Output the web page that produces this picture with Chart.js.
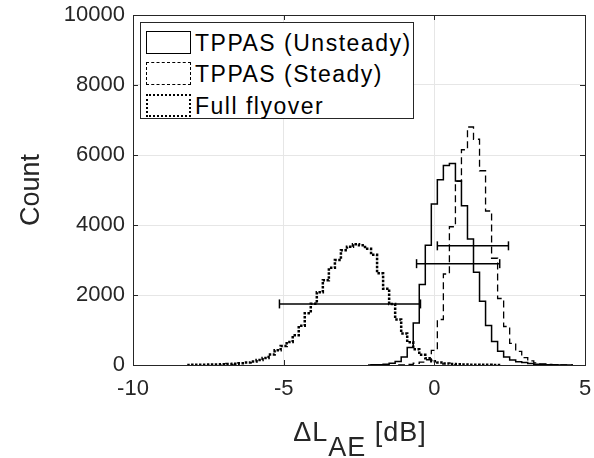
<!DOCTYPE html>
<html>
<head>
<meta charset="utf-8">
<script src="https://cdn.jsdelivr.net/npm/chart.js@4.4.1/dist/chart.umd.min.js"></script>
<style>
  body { margin: 0; background: #fff; }
  #wrap { position: relative; width: 594px; height: 458px; font-family: "Liberation Sans", Arial, sans-serif; color: #262626; }
  #chart { position: absolute; left: 0; top: 0; }
  #legend { position: absolute; left: 140px; top: 22px; width: 274px; height: 97px; border: 1px solid #262626; background: #fff; box-sizing: border-box; }
  .row { position: absolute; left: 5px; height: 23px; font-size: 23px; line-height: 23px; white-space: nowrap; color: #000; }
  .row .ic { position: absolute; left: 0; top: 0; width: 45px; height: 23px; box-sizing: border-box; }
  .row span { position: absolute; left: 49px; top: 1px; letter-spacing: 1.5px; }
  #xtitle { position: absolute; left: 240px; width: 240px; top: 419px; text-align: center; font-size: 27px; line-height: 27px; letter-spacing: 1px; white-space: nowrap; }
  #xtitle sub { font-size: 27px; vertical-align: -15px; line-height: 0; }
</style>
</head>
<body>
<div id="wrap">
  <canvas id="chart" width="594" height="458"></canvas>
  <div id="legend">
    <div class="row" style="top:8px"><div class="ic" style="border:1.5px solid #000"></div><span>TPPAS (Unsteady)</span></div>
    <div class="row" style="top:39px"><div class="ic" style="border:1px dashed #000"></div><span>TPPAS (Steady)</span></div>
    <div class="row" style="top:71px"><div class="ic" style="border:2.5px dotted #000"></div><span>Full flyover</span></div>
  </div>
  <div id="xtitle">&Delta;L<sub>AE</sub> [dB]</div>
</div>
<script>
// histogram bin centres (dB) and counts
const unsteadyX = [-2.2, -2.0, -1.8, -1.6, -1.4, -1.2, -1.0, -0.8, -0.6, -0.4, -0.2, 0.0, 0.2, 0.4, 0.6, 0.8, 1.0, 1.2, 1.4, 1.6, 1.8, 2.0, 2.2, 2.4, 2.6, 2.8, 3.0, 3.2, 3.4, 3.6, 3.8, 4.0, 4.2, 4.4, 4.6];
const unsteadyY = [0, 5, 10, 25, 50, 100, 230, 500, 1200, 2300, 3420, 4600, 5290, 5700, 5760, 5260, 4550, 3600, 2650, 1820, 1130, 670, 390, 230, 140, 95, 70, 45, 25, 15, 10, 6, 3, 2, 0];

const steadyX = [-1.2, -1.0, -0.8, -0.6, -0.4, -0.2, 0.0, 0.2, 0.4, 0.6, 0.8, 1.0, 1.2, 1.4, 1.6, 1.8, 2.0, 2.2, 2.4, 2.6, 2.8, 3.0, 3.2, 3.4, 3.6, 3.8, 4.0, 4.2, 4.4, 4.6];
const steadyY = [0, 5, 20, 50, 80, 150, 420, 1300, 2600, 3950, 5250, 6150, 6800, 6450, 5550, 4400, 3050, 1900, 1100, 620, 390, 210, 120, 60, 35, 15, 6, 3, 1, 0];

const flyoverX = [-8.2, -8.0, -7.8, -7.6, -7.4, -7.2, -7.0, -6.8, -6.6, -6.4, -6.2, -6.0, -5.8, -5.6, -5.4, -5.2, -5.0, -4.8, -4.6, -4.4, -4.2, -4.0, -3.8, -3.6, -3.4, -3.2, -3.0, -2.8, -2.6, -2.4, -2.2, -2.0, -1.8, -1.6, -1.4, -1.2, -1.0, -0.8, -0.6, -0.4, -0.2, 0.0, 0.2, 0.4, 0.6, 0.8, 1.0, 1.2, 1.4, 1.6, 1.8, 2.0, 2.2];
const flyoverY = [0, 5, 8, 10, 12, 15, 20, 28, 35, 50, 70, 100, 140, 200, 300, 420, 540, 660, 850, 1120, 1480, 1750, 2080, 2420, 2780, 3000, 3280, 3380, 3450, 3420, 3320, 3150, 2620, 2180, 1740, 1300, 900, 650, 450, 290, 190, 110, 70, 45, 30, 22, 15, 10, 8, 6, 5, 3, 0];

// horizontal error bars: [left, right] at height y
const errFlyover = { lo: -5.14, hi: -0.46, y: 1745 };
const errUnsteady = { lo: -0.59, hi: 2.17, y: 2895 };
const errSteady = { lo: 0.10, hi: 2.46, y: 3405 };

const xTicks = [-10, -5, 0, 5];
const yTicks = [0, 2000, 4000, 6000, 8000, 10000];

const pts = (xs, ys) => xs.map((x, i) => ({ x: x, y: ys[i] }));

function histSet(xs, ys, width, dash) {
  return {
    data: pts(xs, ys),
    stepped: 'middle',
    borderColor: '#000',
    borderWidth: width,
    borderDash: dash,
    borderCapStyle: 'butt',
    pointRadius: 0,
    fill: false
  };
}

function errSet(e) {
  return {
    data: [{ x: e.lo, y: e.y }, { x: e.hi, y: e.y }],
    borderColor: '#000',
    borderWidth: 1.5,
    pointStyle: 'line',
    pointRotation: 90,
    pointRadius: 4.5,
    pointBorderWidth: 1.5,
    pointBorderColor: '#000',
    fill: false
  };
}

const boxPlugin = {
  id: 'box',
  afterDraw(chart) {
    const { ctx, chartArea: a, scales } = chart;
    ctx.save();
    ctx.strokeStyle = '#262626';
    ctx.lineWidth = 1;
    ctx.beginPath();
    xTicks.forEach(v => {
      const px = Math.round(scales.x.getPixelForValue(v)) + 0.5;
      ctx.moveTo(px, a.bottom); ctx.lineTo(px, a.bottom - 5);
      ctx.moveTo(px, a.top); ctx.lineTo(px, a.top + 5);
    });
    yTicks.forEach(v => {
      const py = Math.round(scales.y.getPixelForValue(v)) + 0.5;
      ctx.moveTo(a.left, py); ctx.lineTo(a.left + 5, py);
      ctx.moveTo(a.right, py); ctx.lineTo(a.right - 5, py);
    });
    ctx.stroke();
    ctx.strokeRect(Math.round(a.left) + 0.5, Math.round(a.top) + 0.5, Math.round(a.right - a.left), Math.round(a.bottom - a.top));
    ctx.restore();
  }
};

new Chart(document.getElementById('chart').getContext('2d'), {
  type: 'line',
  data: {
    datasets: [
      histSet(unsteadyX, unsteadyY, 1.5, []),
      histSet(steadyX, steadyY, 1.3, [7, 4]),
      histSet(flyoverX, flyoverY, 2.5, [2.5, 1.5]),
      errSet(errFlyover),
      errSet(errUnsteady),
      errSet(errSteady)
    ]
  },
  options: {
    responsive: false,
    animation: false,
    devicePixelRatio: 1,
    layout: { autoPadding: false, padding: { left: 0, right: 9, top: 15, bottom: 0 } },
    plugins: { legend: { display: false }, tooltip: { enabled: false } },
    scales: {
      x: {
        type: 'linear',
        min: -10, max: 5,
        afterBuildTicks: s => { s.ticks = xTicks.map(v => ({ value: v })); },
        afterFit: s => { s.height = 93; },
        grid: { color: '#e6e6e6', drawTicks: true, tickLength: 11, tickColor: 'rgba(0,0,0,0)' },
        border: { display: false },
        ticks: { color: '#262626', padding: 0, maxRotation: 0, font: { family: 'Liberation Sans', size: 22 }, callback: v => String(v) }
      },
      y: {
        min: 0, max: 10000,
        afterBuildTicks: s => { s.ticks = yTicks.map(v => ({ value: v })); },
        afterFit: s => { s.width = 133; },
        grid: { color: '#e6e6e6', drawTicks: true, tickLength: 8, tickColor: 'rgba(0,0,0,0)' },
        border: { display: false },
        title: { display: true, text: 'Count', color: '#262626', padding: { top: 15, bottom: 0 }, font: { family: 'Liberation Sans', size: 27 } },
        ticks: { color: '#262626', padding: 0, font: { family: 'Liberation Sans', size: 22 }, callback: v => String(v) }
      }
    }
  },
  plugins: [boxPlugin]
});
</script>
</body>
</html>
